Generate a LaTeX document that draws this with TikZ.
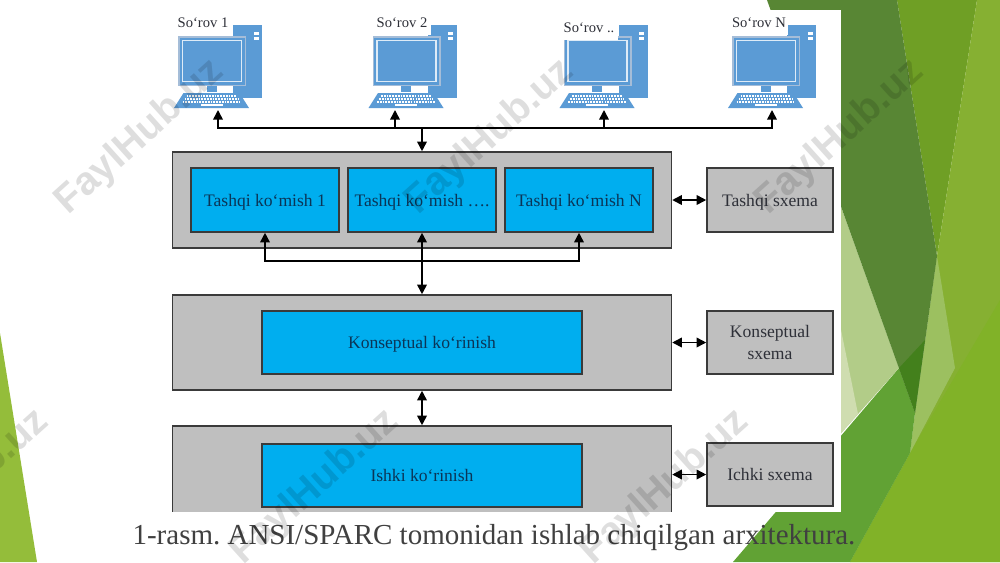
\documentclass[tikz,border=0pt]{standalone}
\usepackage{fontspec}
\setmainfont{Liberation Serif}
\newfontfamily\markfont{Liberation Sans}
\usetikzlibrary{arrows.meta}
\frenchspacing

\definecolor{boxgray}{HTML}{BFBFBF}
\definecolor{boxblue}{HTML}{00AEEF}
\definecolor{boxline}{HTML}{3A3A3A}
\definecolor{pcblue}{HTML}{5B9BD5}
\definecolor{pcframe}{HTML}{A5BDD8}
\definecolor{bluetext}{HTML}{0B3557}
\definecolor{graytext}{HTML}{2E3038}

\tikzset{
    outerbox/.style={draw=boxline, fill=boxgray, line width=0.9pt, minimum width=9.98cm, inner sep=0pt},
    innerbox/.style={draw=boxline, fill=boxblue, line width=0.9pt, inner sep=0pt, text=bluetext, text depth=0pt, font=\fontsize{10}{12.5}\selectfont},
    schemabox/.style={draw=boxline, fill=boxgray, line width=0.9pt, minimum width=2.52cm, minimum height=1.27cm, inner sep=0pt, text=graytext, text depth=0pt, align=center, font=\fontsize{10}{12.5}\selectfont},
    pclabel/.style={fill=white, inner sep=0pt, minimum width=1.16cm, minimum height=0.48cm, text=graytext, font=\fontsize{8.3}{10}\selectfont},
    oneway/.style={-{Triangle[length=5.5pt,width=5.5pt]}, color=black, line width=0.9pt},
    twoway/.style={{Triangle[length=5.5pt,width=5.5pt]}-{Triangle[length=5.5pt,width=5.5pt]}, color=black, line width=0.9pt},
    pics/computer/.style={code={
        % korpus
        \fill[pcblue] (21.5,-83) rectangle (50.5,-10);
        \fill[white] (42,-76) rectangle (47,-73);
        \fill[white] (42,-71) rectangle (47,-68);
        % monitor
        \fill[pcframe] (-33.5,-72) rectangle (34.5,-22);
        \fill[pcblue] (-32,-70.5) rectangle (33,-23.5);
        \draw[white!80!pcblue, line width=0.6pt] (-29,-67.5) rectangle (30,-26.5);
        \fill[white] (5,-22) rectangle (21,-16);
        \fill[pcblue] (-5,-22) rectangle (5,-16);
        % klaviatura
        \fill[pcblue] (-28,-15) -- (28,-15) -- (37.5,0) -- (-37.5,0) -- cycle;
        \draw[white, line width=0.7pt, dash pattern=on 1pt off 0.6pt] (-25,-12) -- (25,-12);
        \draw[white, line width=0.7pt, dash pattern=on 1pt off 0.6pt] (-27,-9) -- (27,-9);
        \draw[white, line width=0.7pt, dash pattern=on 1pt off 0.6pt] (-29,-6) -- (29,-6);
        \fill[white] (-11,-4) rectangle (11,-2);
    }}
}

\begin{document}
\begin{tikzpicture}[x=0.02cm, y=-0.02cm]
    \useasboundingbox (0,0) rectangle (1000,562);

    % Fon
    \fill[white] (0,0) rectangle (1000,562);
    \fill[color={rgb,255:red,148;green,189;blue,58}] (0,333)--(37,562)--(0,562)--cycle;
    \fill[color={rgb,255:red,111;green,159;blue,37}] (897,0)--(977,0)--(937,256)--cycle;
    \fill[color={rgb,255:red,134;green,176;blue,50}] (977,0)--(1000,0)--(1000,562)--(850,562)--(910,453)--(937,256)--cycle;
    \fill[color={rgb,255:red,129;green,178;blue,40}] (1000,300)--(1000,562)--(850,562)--(910,453)--cycle;
    \fill[color={rgb,255:red,156;green,192;blue,96}] (937,256)--(955,368)--(910,453)--(915,413)--cycle;
    \fill[color={rgb,255:red,97;green,162;blue,52}] (733,562)--(899,368)--(915,413)--(910,453)--(850,562)--cycle;
    \fill[color={rgb,255:red,178;green,204;blue,136}] (835,190)--(899,368)--(835,440)--cycle;
    \fill[color={rgb,255:red,207;green,221;blue,176}] (835,300)--(858,414)--(835,440)--cycle;
    \fill[color={rgb,255:red,88;green,134;blue,52}] (767,0)--(897,0)--(937,256)--(915,413)--cycle;
    \fill[color={rgb,255:red,67;green,128;blue,28}] (899,368)--(925,340)--(915,413)--cycle;
    \fill[white] (160,10) rectangle (841,512);

    % Kompyuterlar
    \foreach \cx in {211.5,406,597,765.5}
        \pic at (\cx,108) {computer};

    \node[pclabel] (sorov1) at (203,23) {So‘rov 1};
    \node[pclabel] (sorov2) at (402,23) {So‘rov 2};
    \node[pclabel] (sorov3) at (589,28) {So‘rov ..};
    \node[pclabel] (sorov4) at (759,23) {So‘rov N};

    % Tashqi daraja
    \node[outerbox, minimum height=1.92cm] (tashqi) at (422,200) {};
    \node[innerbox, minimum width=2.96cm, minimum height=1.28cm] (view1) at (265,200) {Tashqi ko‘mish 1};
    \node[innerbox, minimum width=2.96cm, minimum height=1.28cm] (view2) at (422,200) {Tashqi ko‘mish ….};
    \node[innerbox, minimum width=2.96cm, minimum height=1.28cm] (view3) at (579,200) {Tashqi ko‘mish N};
    \node[schemabox] (schema1) at (770,200) {Tashqi sxema};

    % Konseptual daraja
    \node[outerbox, minimum height=1.9cm] (konsept) at (422,342.5) {};
    \node[innerbox, minimum width=6.4cm, minimum height=1.27cm] (view4) at (422,342.5) {Konseptual ko‘rinish};
    \node[schemabox] (schema2) at (770,342.5) {Konseptual\\sxema};

    % Ichki daraja
    \node[outerbox, minimum height=2cm] (ichki) at (422,476) {};
    \node[innerbox, minimum width=6.4cm, minimum height=1.27cm] (view5) at (422,475.5) {Ishki ko‘rinish};
    \node[schemabox] (schema3) at (770,474.5) {Ichki sxema};
    \fill[white] (160,512) rectangle (680,530);

    % Chiziqlar va strelkalar
    \coordinate (bustop) at (422,128);
    \coordinate (busmid) at (422,261);
    \coordinate (pc1) at (218,110);
    \coordinate (pc2) at (395,110);
    \coordinate (pc3) at (604,110);
    \coordinate (pc4) at (772,110);

    \draw[oneway] (bustop) -| (pc1);
    \draw[oneway] (bustop) -| (pc2);
    \draw[oneway] (bustop) -| (pc3);
    \draw[oneway] (bustop) -| (pc4);
    \draw[oneway] (bustop) -- (tashqi.north);

    \draw[oneway] (busmid) -| (view1.south);
    \draw[oneway] (busmid) -| (view3.south);
    \draw[twoway] (view2.south) -- (konsept.north);
    \draw[twoway] (konsept.south) -- (ichki.north);

    \draw[twoway] (tashqi.east) -- (schema1.west);
    \draw[twoway] (konsept.east) -- (schema2.west);
    \draw[twoway] (schema3.west -| ichki.east) -- (schema3.west);

    % Izoh
    \node[text=black!75, font=\fontsize{16.5}{20}\selectfont] (caption) at (494,538) {1-rasm. ANSI/SPARC tomonidan ishlab chiqilgan arxitektura.};

    % Suv belgisi
    \foreach \wx/\wy [count=\i] in {140/137,490/137,840/137,-35/487,315/487,665/487}
        \node[rotate=42, text=black, text opacity=0.13, font=\markfont\bfseries\fontsize{22.5}{28}\selectfont] (mark\i) at (\wx,\wy) {FaylHub.uz};
\end{tikzpicture}
\end{document}
